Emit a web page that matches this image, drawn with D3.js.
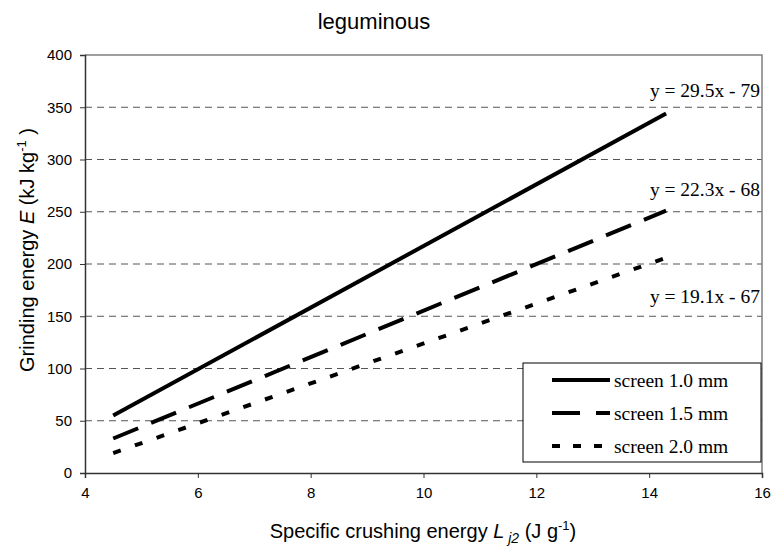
<!DOCTYPE html>
<html><head><meta charset="utf-8">
<script src="https://cdn.jsdelivr.net/npm/d3@7"></script>
<style>body{margin:0;background:#fff}svg{display:block}</style>
</head><body>
<svg id="c" width="776" height="546"></svg>
<script>
const seriesNames = ["screen 1.0 mm", "screen 1.5 mm", "screen 2.0 mm"];
const xEnds = [[4.5, 14.3], [4.5, 14.3], [4.5, 14.25]];
const yEnds = [[55, 344], [33, 251], [19, 205]];
const equations = ["y = 29.5x - 79", "y = 22.3x - 68", "y = 19.1x - 67"];
const eqY = [360, 265, 163];
const xTicks = [4, 6, 8, 10, 12, 14, 16];
const yTicks = [0, 50, 100, 150, 200, 250, 300, 350, 400];
const dashes = [null, "27,14", "8,15"];

const svg = d3.select("#c");
const L = 85, R = 762, T = 55, B = 473;
const x = d3.scaleLinear().domain([4, 16]).range([L, R]);
const y = d3.scaleLinear().domain([0, 400]).range([B, T]);
const sans = "Liberation Sans, Arial, sans-serif";
const serif = "Liberation Serif, Times New Roman, serif";

// gridlines
svg.append("g").selectAll("line").data(yTicks.filter(v => v > 0 && v < 400)).join("line")
  .attr("x1", L).attr("x2", R).attr("y1", d => y(d)).attr("y2", d => y(d))
  .attr("stroke", "#555").attr("stroke-width", 1).attr("stroke-dasharray", "7,5");
// border top/right
svg.append("path").attr("d", `M${L},${T}H${R}V${B}`).attr("fill", "none").attr("stroke", "#808080").attr("stroke-width", 1.5);

const xa = svg.append("g").attr("transform", `translate(0,${B})`)
  .call(d3.axisBottom(x).tickValues(xTicks).tickSize(5).tickPadding(9));
const ya = svg.append("g").attr("transform", `translate(${L},0)`)
  .call(d3.axisLeft(y).tickValues(yTicks).tickSize(5).tickPadding(8));
[xa, ya].forEach(a => {
  a.select(".domain").attr("stroke", "#333").attr("stroke-width", 1.5);
  a.selectAll(".tick line").attr("stroke", "#333");
  a.selectAll("text").attr("font-family", sans).attr("font-size", 15).attr("fill", "#000");
});

// lines
const line = d3.line().x(d => x(d[0])).y(d => y(d[1]));
seriesNames.forEach((n, i) => {
  const pts = xEnds[i].map((xv, j) => [xv, yEnds[i][j]]);
  svg.append("path").attr("d", line(pts)).attr("fill", "none").attr("stroke", "#000")
    .attr("stroke-width", 4).attr("stroke-dasharray", dashes[i]);
});

// equations
equations.forEach((e, i) => {
  svg.append("text").attr("x", 760).attr("y", y(eqY[i])).attr("text-anchor", "end")
    .attr("font-family", serif).attr("font-size", 19.5).text(e);
});

// legend
svg.append("rect").attr("x", 523).attr("y", 363).attr("width", 238).attr("height", 99)
  .attr("fill", "#fff").attr("stroke", "#000").attr("stroke-width", 1);
seriesNames.forEach((n, i) => {
  const yy = 380 + i * 33;
  svg.append("line").attr("x1", 552).attr("x2", 610).attr("y1", yy).attr("y2", yy)
    .attr("stroke", "#000").attr("stroke-width", 4).attr("stroke-dasharray", i === 1 ? "28,16" : i === 2 ? "8,13" : null);
  svg.append("text").attr("x", 614).attr("y", yy + 7).attr("font-family", serif)
    .attr("font-size", 19.5).text(n);
});

// title
svg.append("text").attr("x", 374).attr("y", 29).attr("text-anchor", "middle")
  .attr("font-family", sans).attr("font-size", 22).text("leguminous");

// x title
const xt = svg.append("text").attr("x", 423).attr("y", 538).attr("text-anchor", "middle")
  .attr("font-family", sans).attr("font-size", 20);
xt.append("tspan").text("Specific crushing energy ");
xt.append("tspan").attr("font-style", "italic").text("L");
xt.append("tspan").attr("font-style", "italic").attr("font-size", 14).attr("dy", 5).text(" j2");
xt.append("tspan").attr("dy", -5).text("  (J g");
xt.append("tspan").attr("font-size", 13).attr("dy", -8).text("-1");
xt.append("tspan").attr("dy", 8).text(")");

// y title
const yt = svg.append("text").attr("transform", "translate(34,250) rotate(-90)").attr("text-anchor", "middle")
  .attr("font-family", sans).attr("font-size", 20);
yt.append("tspan").text("Grinding energy ");
yt.append("tspan").attr("font-style", "italic").text("E");
yt.append("tspan").text("  (kJ kg");
yt.append("tspan").attr("font-size", 13).attr("dy", -8).text("-1");
yt.append("tspan").attr("dy", 8).text(" )");
</script>
</body></html>
